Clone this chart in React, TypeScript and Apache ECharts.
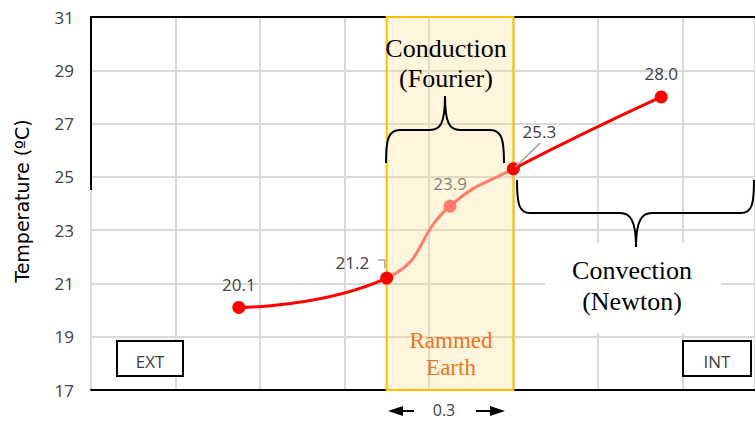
import React, { useEffect, useRef } from "react";
import * as echarts from "echarts";

// Position across the wall section (grid units) and temperature (ºC)
const positions = [1.75, 3.5, 4.25, 5.0, 6.75];
const temperatures = [20.1, 21.2, 23.9, 25.3, 28.0];
const yTicks = { min: 17, max: 31, step: 2 };
const xRange = { min: 0, max: 7.86, step: 1 };
const wallSpan = [3.5, 5.0];
const wallThickness = "0.3";

const RED = "#FF0000";
const SALMON = "#FF7B6B";
const LABEL = "#404040";

// curly braces drawn as path shapes
const braceUp =
  "M386,163 C386,140 388,130 400,130 L430,130 C440,130 445,124 445,96 C445,124 450,130 460,130 L490,130 C502,130 504,140 504,163";
const braceDown =
  "M517,180 C517,204 519,213 530,213 L620,213 C630,213 636,220 636,247 C636,220 642,213 652,213 L741,213 C752,213 754,204 754,180";
echarts.graphic.registerShape("braceUp", echarts.graphic.extendPath(braceUp, {}));
echarts.graphic.registerShape("braceDown", echarts.graphic.extendPath(braceDown, {}));

export default function App() {
  const ref = useRef<HTMLDivElement>(null);

  useEffect(() => {
    if (!ref.current) return;
    const chart = echarts.init(ref.current, null, { renderer: "svg" });

    const labelFor = (i: number) => {
      const base = {
        show: true,
        fontFamily: "Open Sans",
        fontSize: 17,
        color: LABEL,
        position: "top" as const,
        distance: 8,
        formatter: (p: any) => p.value[1].toFixed(1),
      };
      if (i === 1) return { ...base, position: "left" as const, distance: 11, offset: [0, -16] };
      if (i === 2) return { ...base, color: "#808080" };
      if (i === 3) return { ...base, offset: [26, -14] };
      return base;
    };

    const data = positions.map((x, i) => ({
      value: [x, temperatures[i]],
      label: labelFor(i),
    }));

    const serif = "Liberation Serif";

    chart.setOption({
      animation: false,
      grid: { left: 91, top: 17, right: 0, bottom: 31 },
      xAxis: [
        {
          type: "value",
          min: xRange.min,
          max: xRange.max,
          interval: xRange.step,
          axisLine: { show: true, lineStyle: { color: "#000", width: 2 } },
          axisTick: { show: false },
          axisLabel: { show: false },
          splitLine: { show: true, lineStyle: { color: "#D9D9D9", width: 2 } },
        },
        {
          type: "value",
          position: "top",
          min: xRange.min,
          max: xRange.max,
          interval: xRange.step,
          axisLine: { show: true, onZero: false, lineStyle: { color: "#000", width: 2 } },
          axisTick: { show: false },
          axisLabel: { show: false },
          splitLine: { show: false },
        },
      ],
      yAxis: {
        type: "value",
        min: yTicks.min,
        max: yTicks.max,
        interval: yTicks.step,
        axisLine: { show: true, lineStyle: { color: "#D9D9D9", width: 2 } },
        axisTick: { show: false },
        axisLabel: { fontFamily: "Open Sans", fontSize: 17, color: LABEL, margin: 17 },
        splitLine: { show: true, lineStyle: { color: "#D9D9D9", width: 2 } },
      },
      visualMap: {
        type: "piecewise",
        show: false,
        dimension: 0,
        seriesIndex: 0,
        pieces: [
          { lte: wallSpan[0], color: RED },
          { gt: wallSpan[0], lt: wallSpan[1], color: SALMON },
          { gte: wallSpan[1], color: RED },
        ],
      },
      series: [
        {
          type: "line",
          data,
          smooth: 0.5,
          symbol: "circle",
          symbolSize: 13,
          lineStyle: { width: 3 },
          z: 5,
          markArea: {
            silent: true,
            itemStyle: {
              color: "rgba(255, 222, 140, 0.3)",
              borderColor: "#FFC000",
              borderWidth: 2,
            },
            data: [[{ xAxis: wallSpan[0] }, { xAxis: wallSpan[1] }]],
          },
        },
      ],
    });

    const p1 = chart.convertToPixel({ gridIndex: 0 }, [positions[1], temperatures[1]]) as number[];
    const p3 = chart.convertToPixel({ gridIndex: 0 }, [positions[3], temperatures[3]]) as number[];

    chart.setOption({
      graphic: [
        // axis title
        {
          type: "text",
          x: 22,
          y: 201,
          rotation: Math.PI / 2,
          style: {
            text: "Temperature (ºC)",
            fontFamily: "DejaVu Sans",
            fontSize: 19,
            fill: "#000",
            align: "center",
            verticalAlign: "middle",
          },
          z: 10,
        },
        // upper part of the value axis is drawn dark
        { type: "line", shape: { x1: 91, y1: 17, x2: 91, y2: 190 }, style: { stroke: "#000", lineWidth: 2 }, z: 10 },
        // leader lines of the labels
        {
          type: "polyline",
          shape: { points: [[p1[0] - 9, p1[1] - 18], [p1[0] - 2, p1[1] - 18], [p1[0] - 2, p1[1] - 10]] },
          style: { stroke: "#A6A6A6", lineWidth: 1.5, fill: null },
          z: 10,
        },
        {
          type: "line",
          shape: { x1: p3[0] + 27, y1: p3[1] - 26, x2: p3[0] + 2, y2: p3[1] - 2 },
          style: { stroke: "#A6A6A6", lineWidth: 1.5 },
          z: 10,
        },
        // braces
        { type: "braceUp", x: 0, y: 0, style: { stroke: "#000", lineWidth: 2, fill: null }, z: 10 },
        { type: "braceDown", x: 0, y: 0, style: { stroke: "#000", lineWidth: 2, fill: null }, z: 10 },
        // conduction caption
        {
          type: "text",
          x: 446,
          y: 48,
          style: { text: "Conduction", fontFamily: serif, fontSize: 26, fill: "#000", align: "center", verticalAlign: "middle" },
          z: 10,
        },
        {
          type: "text",
          x: 446,
          y: 78,
          style: { text: "(Fourier)", fontFamily: serif, fontSize: 26, fill: "#000", align: "center", verticalAlign: "middle" },
          z: 10,
        },
        // convection caption on a white panel
        { type: "rect", shape: { x: 545, y: 243, width: 176, height: 90 }, style: { fill: "#fff" }, z: 9 },
        {
          type: "text",
          x: 632,
          y: 270,
          style: { text: "Convection", fontFamily: serif, fontSize: 26, fill: "#000", align: "center", verticalAlign: "middle" },
          z: 10,
        },
        {
          type: "text",
          x: 632,
          y: 301,
          style: { text: "(Newton)", fontFamily: serif, fontSize: 26, fill: "#000", align: "center", verticalAlign: "middle" },
          z: 10,
        },
        // wall material
        {
          type: "text",
          x: 451,
          y: 340,
          style: { text: "Rammed", fontFamily: serif, fontSize: 23, fill: "#E8761E", align: "center", verticalAlign: "middle" },
          z: 10,
        },
        {
          type: "text",
          x: 451,
          y: 367,
          style: { text: "Earth", fontFamily: serif, fontSize: 23, fill: "#E8761E", align: "center", verticalAlign: "middle" },
          z: 10,
        },
        // exterior / interior tags
        { type: "rect", shape: { x: 117, y: 341, width: 66, height: 35 }, style: { fill: "#fff", stroke: "#000", lineWidth: 2 }, z: 10 },
        {
          type: "text",
          x: 150,
          y: 361,
          style: { text: "EXT", fontFamily: "Open Sans", fontSize: 17, fill: LABEL, align: "center", verticalAlign: "middle" },
          z: 11,
        },
        { type: "rect", shape: { x: 683, y: 341, width: 68, height: 35 }, style: { fill: "#fff", stroke: "#000", lineWidth: 2 }, z: 10 },
        {
          type: "text",
          x: 717,
          y: 361,
          style: { text: "INT", fontFamily: "Open Sans", fontSize: 17, fill: LABEL, align: "center", verticalAlign: "middle" },
          z: 11,
        },
        // thickness dimension
        { type: "polygon", shape: { points: [[388, 411], [403, 406], [403, 416]] }, style: { fill: "#000" }, z: 10 },
        { type: "line", shape: { x1: 402, y1: 411, x2: 414, y2: 411 }, style: { stroke: "#000", lineWidth: 2 }, z: 10 },
        { type: "polygon", shape: { points: [[505, 411], [490, 406], [490, 416]] }, style: { fill: "#000" }, z: 10 },
        { type: "line", shape: { x1: 476, y1: 411, x2: 491, y2: 411 }, style: { stroke: "#000", lineWidth: 2 }, z: 10 },
        {
          type: "text",
          x: 444,
          y: 410,
          style: { text: wallThickness, fontFamily: "Open Sans", fontSize: 16, fill: LABEL, align: "center", verticalAlign: "middle" },
          z: 10,
        },
      ],
    });

    return () => chart.dispose();
  }, []);

  return <div ref={ref} style={{ width: 755, height: 421, position: "absolute", left: 0, top: 0 }} />;
}
